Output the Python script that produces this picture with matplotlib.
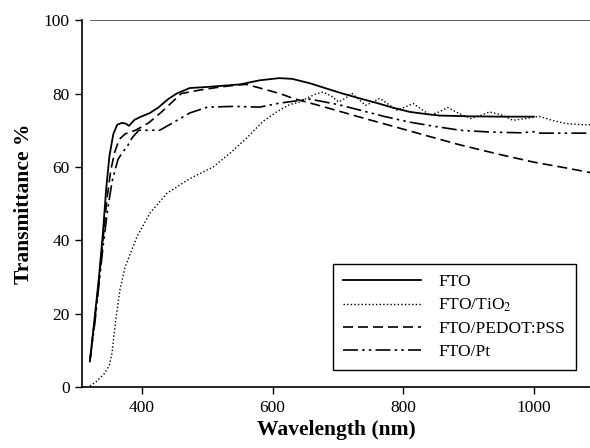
import matplotlib.pyplot as plt

plt.rcParams['font.family'] = ['Liberation Serif', 'DejaVu Serif']
plt.rcParams['mathtext.fontset'] = 'stix'

# FTO (solid)
wl_fto = [320, 328, 334, 340, 345, 350, 356, 362, 369, 375, 380, 388, 397, 412, 425, 440, 453, 473,
          500, 550, 580, 610, 630, 657, 680, 707, 735, 760, 785, 810, 835, 856, 900, 950, 1000]
t_fto = [7, 20, 30, 42, 54, 63, 69, 71.5, 72, 71.8, 71.2, 72.8, 73.6, 74.7, 76.2, 78.5, 80, 81.5,
         81.8, 82.5, 83.6, 84.2, 84, 82.8, 81.5, 80, 78.6, 77.4, 76.1, 75, 74.4, 74, 73.8, 73.7, 73.7]

# FTO/TiO2 (dotted)
wl_tio2 = [320, 330, 343, 350, 354, 359, 366, 374, 392, 412, 438, 473, 509, 535, 561,
           585, 606, 626, 640, 652, 665, 677, 690, 701, 712, 721, 732, 742, 753, 764, 777,
           790, 803, 815, 828, 841, 855, 868, 885, 903, 918, 932, 950, 968, 988, 1008,
           1030, 1050, 1075, 1100]
t_tio2 = [0.3, 1.5, 3.8, 6, 9.3, 17.4, 26.4, 32.7, 40.9, 47.4, 52.8, 56.8, 60, 63.8, 68,
          72.4, 75, 77, 77.6, 78.7, 79.8, 80.4, 79.3, 77.7, 78.8, 80.1, 78.4, 76.8, 77.6, 78.7, 77.1,
          75.5, 76.3, 77.3, 75.7, 74.1, 75, 76.2, 74.6, 73.2, 74, 75, 74.2, 72.7, 73.2, 73.8,
          72.6, 71.8, 71.5, 71.5]

# FTO/PEDOT:PSS (dashed)
wl_pedot = [320, 328, 334, 340, 346, 352, 358, 365, 374, 390, 410, 430, 460, 490, 520, 545, 560, 611,
            631, 680, 733, 790, 836, 887, 950, 1000, 1050, 1100]
t_pedot = [7, 19, 29, 40, 51, 59, 64, 67.5, 69, 70, 72, 75, 80, 81, 81.8, 82.3, 82.5, 80,
           78.7, 76.3, 73.6, 70.8, 68.5, 66, 63.3, 61.3, 59.7, 58]

# FTO/Pt (dash-dot-dot)
wl_pt = [320, 328, 334, 340, 347, 354, 363, 370, 377, 385, 395, 410, 427, 445, 473, 500, 540, 580,
         611, 657, 700, 733, 770, 810, 850, 887, 933, 980, 1000, 1010, 1100]
t_pt = [7, 18, 28, 38, 48, 56, 62, 64, 65.5, 68, 70, 70, 70, 71.8, 74.7, 76.3, 76.5, 76.3,
        77.4, 78.5, 77, 75.5, 73.8, 72.2, 71, 70, 69.5, 69.3, 69.6, 69.2, 69.2]

series_labels = ['FTO', 'FTO/TiO$_2$', 'FTO/PEDOT:PSS', 'FTO/Pt']

fig = plt.figure(figsize=(5.9, 4.48), dpi=100)
ax = fig.add_axes([0.139, 0.136, 0.861, 0.819])

ax.plot(wl_fto, t_fto, color='black', lw=1.3, ls='-', label=series_labels[0])
ax.plot(wl_tio2, t_tio2, color='black', lw=1.0, dashes=(1, 1.6), label=series_labels[1])
ax.plot(wl_pedot, t_pedot, color='black', lw=1.2, dashes=(6, 3), label=series_labels[2])
ax.plot(wl_pt, t_pt, color='black', lw=1.2, dashes=(9, 2.5, 1.5, 2.5, 1.5, 2.5), label=series_labels[3])

# line at 100 across the top
ax.hlines(100, 320, 1100, color='#555555', lw=1.3)

ax.set_xlim(308, 1086)
ax.set_ylim(0, 100)
ax.set_xticks([400, 600, 800, 1000])
ax.set_yticks([0, 20, 40, 60, 80, 100])
ax.tick_params(direction='out', length=5, width=1, labelsize=12.5, pad=4)
ax.spines['top'].set_visible(False)
ax.spines['right'].set_visible(False)
ax.spines['left'].set_linewidth(1.2)
ax.spines['bottom'].set_linewidth(1.2)

ax.set_xlabel('Wavelength (nm)', fontsize=15.5, fontweight='bold', labelpad=3)
ax.set_ylabel('Transmittance %', fontsize=15.5, fontweight='bold', labelpad=7)

leg = ax.legend(loc='lower right', bbox_to_anchor=(0.972, 0.046), borderaxespad=0,
                fontsize=12.5, handlelength=4.5, handletextpad=1.0, labelspacing=0.38,
                fancybox=False, framealpha=1, borderpad=0.6)
leg.get_frame().set_edgecolor('black')
leg.get_frame().set_linewidth(1.0)

fig.savefig('out.png', dpi=100)
